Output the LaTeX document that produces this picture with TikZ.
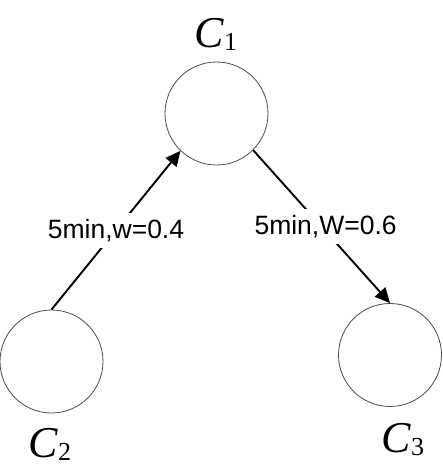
\documentclass[tikz,border=0pt]{standalone}
\usepackage{fontspec}
\setmainfont{Liberation Serif}
\newfontfamily\lblfont{Liberation Sans}
\usetikzlibrary{arrows.meta}
\begin{document}
\begin{tikzpicture}[x=1pt,y=-1pt,
  state/.style={circle,draw=black!70,line width=0.8pt,minimum size=103pt,inner sep=0pt},
  cname/.style={anchor=base,inner sep=0pt,font=\fontsize{44}{44}\selectfont\itshape},
  arr/.style={line width=1.9pt,-{Triangle[length=15pt,width=14pt]}},
  lbl/.style={fill=white,inner sep=6pt,font=\lblfont\fontsize{26.5}{26.5}\selectfont}]
\path[use as bounding box] (0,0) rectangle (442,470);
\node[state] (c1) at (216.5,113.5) {};
\node[state] (c2) at (51.5,361.5) {};
\node[state] (c3) at (390,355) {};
\newcommand{\subnum}[1]{\raisebox{-3pt}{\fontsize{26}{26}\selectfont\upshape #1}}
\node[cname] (l1) at (216,48) {C\subnum{1}};
\node[cname] (l2) at (50,457) {C\subnum{2}};
\node[cname] (l3) at (403,452) {C\subnum{3}};
\draw[arr] (c2.north) -- (c1.226) node[midway,lbl] (e1) {5min,w=0.4};
\draw[arr] (c1.-45) -- (c3.north) node[midway,lbl,xshift=4pt] (e2) {5min,W=0.6};
\end{tikzpicture}
\end{document}
